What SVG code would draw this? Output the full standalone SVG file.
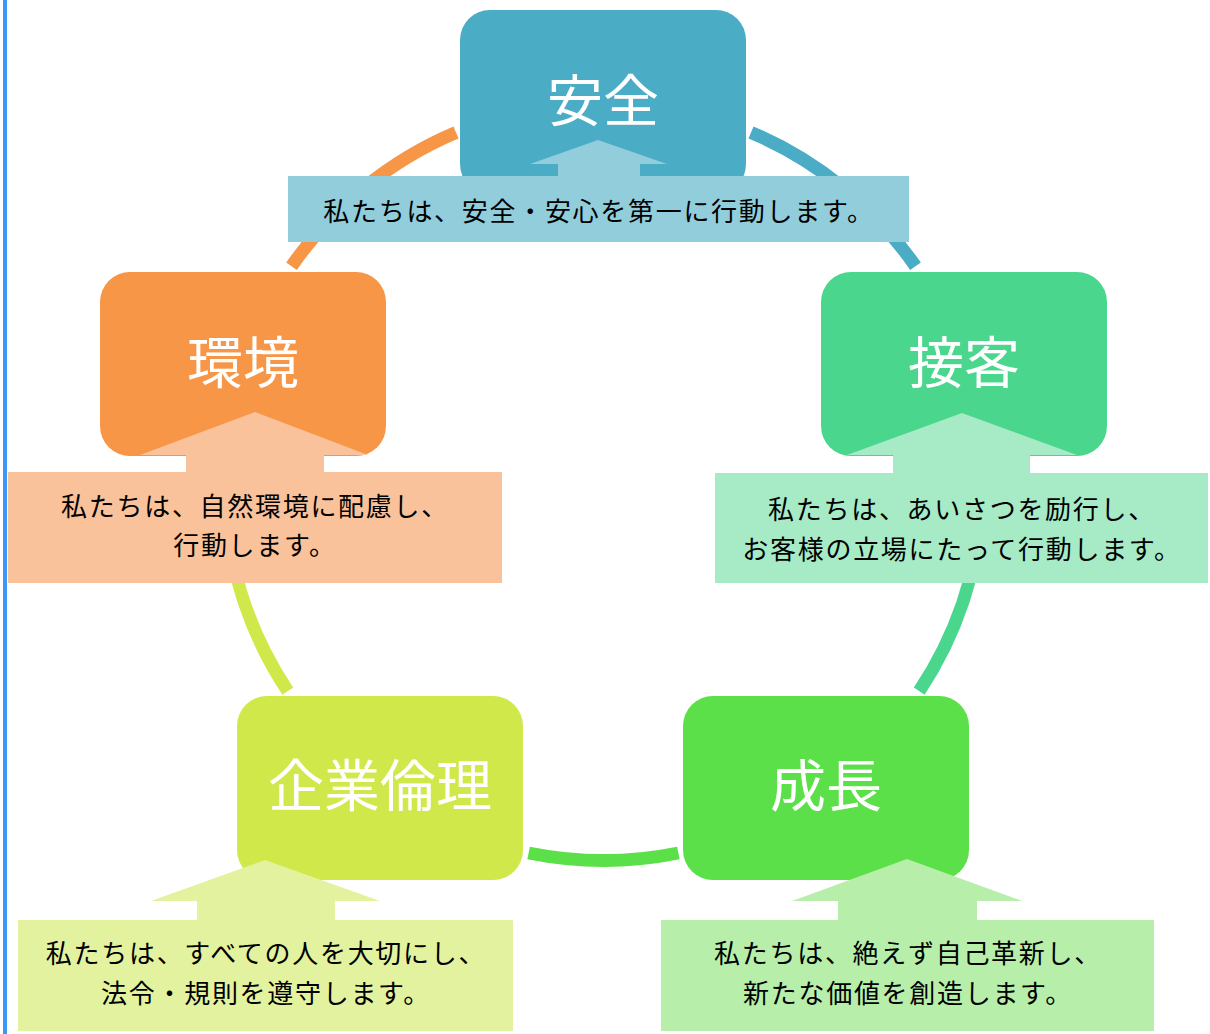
<svg xmlns="http://www.w3.org/2000/svg" width="1210" height="1034" viewBox="0 0 1210 1034">
<style>
.arc{fill:none;stroke-width:13;stroke-linecap:butt}
.title{font-family:"Noto Sans CJK JP","Noto Sans",sans-serif;font-size:56px;fill:#ffffff;text-anchor:middle}
.desc{font-family:"Noto Sans CJK JP","Noto Sans",sans-serif;font-size:26px;fill:#000000;text-anchor:middle;letter-spacing:1.7px}
</style>
<rect width="1210" height="1034" fill="#ffffff"/>
<rect x="3" y="0" width="4" height="1034" fill="#3a98f8"/>
<g id="connectors">
<path class="arc" stroke="#F79646" d="M291.5 266.3 A379 379 0 0 1 456 132.4"/>
<path class="arc" stroke="#4BACC6" d="M751 132.4 A379 379 0 0 1 915.5 266.3"/>
<path class="arc" stroke="#4AD68C" d="M982 501.3 A379 379 0 0 1 919.2 691.2"/>
<path class="arc" stroke="#5CE04A" d="M678.4 853 A379 379 0 0 1 528.6 853"/>
<path class="arc" stroke="#D0E84A" d="M287.8 691.2 A379 379 0 0 1 225 501.3"/>
</g>
<g id="node-anzen">
<rect x="460" y="10" width="286" height="184" rx="30" fill="#4BACC6"/>
<text class="title" x="603" y="121">安全</text>
<path d="M530 164 L598 140 L667 164 L640 164 L640 176 L909 176 L909 242 L288 242 L288 176 L558 176 L558 164 Z" fill="#92CDDC"/>
<text class="desc" x="599" y="221">私たちは、安全・安心を第一に行動します。</text>
</g>
<g id="node-kankyo">
<rect x="100" y="272" width="286" height="184" rx="30" fill="#F79646"/>
<text class="title" x="243" y="383">環境</text>
<path d="M140 455 L255 412 L368 455 L324 455 L324 472 L502 472 L502 583 L8 583 L8 472 L186 472 L186 455 Z" fill="#FAC29A"/>
<text class="desc" x="255" y="516">私たちは、自然環境に配慮し、</text>
<text class="desc" x="255" y="555">行動します。</text>
</g>
<g id="node-sekkyaku">
<rect x="821" y="272" width="286" height="184" rx="30" fill="#4AD68C"/>
<text class="title" x="964" y="383">接客</text>
<path d="M847 455 L962 413 L1077 455 L1030 455 L1030 473 L1208 473 L1208 583 L715 583 L715 473 L893 473 L893 455 Z" fill="#A6EAC6"/>
<text class="desc" x="962" y="519">私たちは、あいさつを励行し、</text>
<text class="desc" x="962" y="559">お客様の立場にたって行動します。</text>
</g>
<g id="node-kigyorinri">
<rect x="237" y="696" width="286" height="184" rx="30" fill="#D0E84A"/>
<text class="title" x="380" y="806">企業倫理</text>
<path d="M151 901 L265 860 L380 901 L335 901 L335 920 L513 920 L513 1031 L18 1031 L18 920 L197 920 L197 901 Z" fill="#E3F29E"/>
<text class="desc" x="266" y="963">私たちは、すべての人を大切にし、</text>
<text class="desc" x="266" y="1003">法令・規則を遵守します。</text>
</g>
<g id="node-seicho">
<rect x="683" y="696" width="286" height="184" rx="30" fill="#5CE04A"/>
<text class="title" x="826" y="806">成長</text>
<path d="M792 901 L907 859 L1022 901 L977 901 L977 920 L1154 920 L1154 1031 L661 1031 L661 920 L838 920 L838 901 Z" fill="#B7EFAA"/>
<text class="desc" x="908" y="963">私たちは、絶えず自己革新し、</text>
<text class="desc" x="908" y="1003">新たな価値を創造します。</text>
</g>
</svg>
